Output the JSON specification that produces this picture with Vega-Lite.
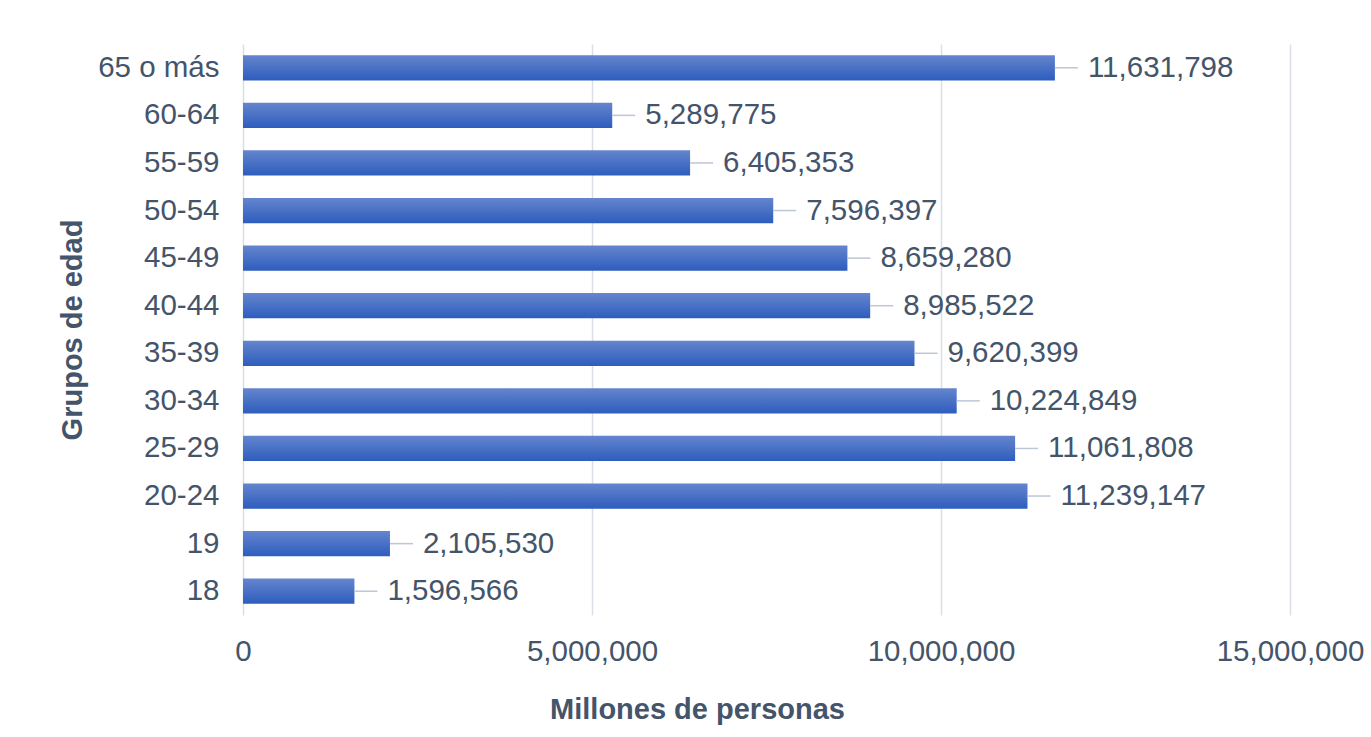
{
  "$schema": "https://vega.github.io/schema/vega-lite/v6.json",
  "autosize": {"type": "none"},
  "padding": {"left": 243, "top": 44, "right": 81, "bottom": 122},
  "width": 1047,
  "height": 571,
  "background": "white",
  "config": {
    "font": "Liberation Sans",
    "view": {"stroke": null},
    "axis": {"labelColor": "#44546A", "titleColor": "#44546A", "labelFont": "Liberation Sans", "titleFont": "Liberation Sans"}
  },
  "data": {
    "values": [
      {"grupo": "65 o más", "personas": 11631798},
      {"grupo": "60-64", "personas": 5289775},
      {"grupo": "55-59", "personas": 6405353},
      {"grupo": "50-54", "personas": 7596397},
      {"grupo": "45-49", "personas": 8659280},
      {"grupo": "40-44", "personas": 8985522},
      {"grupo": "35-39", "personas": 9620399},
      {"grupo": "30-34", "personas": 10224849},
      {"grupo": "25-29", "personas": 11061808},
      {"grupo": "20-24", "personas": 11239147},
      {"grupo": "19", "personas": 2105530},
      {"grupo": "18", "personas": 1596566}
    ]
  },
  "encoding": {
    "y": {
      "field": "grupo", "type": "nominal",
      "sort": ["65 o más", "60-64", "55-59", "50-54", "45-49", "40-44", "35-39", "30-34", "25-29", "20-24", "19", "18"],
      "scale": {"paddingInner": 0.47, "paddingOuter": 0.235},
      "axis": {
        "title": "Grupos de edad", "titleFontSize": 29, "titleFontWeight": "bold", "titlePadding": 10,
        "labelFontSize": 29.5, "labelPadding": 24, "ticks": false, "domain": false, "grid": false
      }
    }
  },
  "layer": [
    {
      "mark": {
        "type": "bar",
        "color": {
          "gradient": "linear", "x1": 0, "y1": 0, "x2": 0, "y2": 1,
          "stops": [{"offset": 0, "color": "#6585CE"}, {"offset": 1, "color": "#2D5DBD"}]
        }
      },
      "encoding": {
        "x": {
          "field": "personas", "type": "quantitative",
          "scale": {"domain": [0, 15000000], "nice": false},
          "axis": {
            "title": "Millones de personas", "titleFontSize": 29, "titleFontWeight": "bold", "titlePadding": 30, "titleX": 454,
            "labelFontSize": 29.5, "labelPadding": 22, "labelFlush": false, "labelOverlap": false,
            "values": [0, 5000000, 10000000, 15000000], "format": ",d",
            "ticks": false, "domain": false, "grid": true, "gridColor": "#D9DEE8", "gridWidth": 1.5
          }
        }
      }
    },
    {
      "mark": {"type": "rule", "x2Offset": 23, "color": "#BCC6D6", "strokeWidth": 1.5},
      "encoding": {
        "x": {"field": "personas", "type": "quantitative"},
        "x2": {"field": "personas"}
      }
    },
    {
      "mark": {"type": "text", "align": "left", "baseline": "middle", "dx": 33, "fontSize": 29.5, "color": "#44546A"},
      "encoding": {
        "x": {"field": "personas", "type": "quantitative"},
        "text": {"field": "personas", "type": "quantitative", "format": ",d"}
      }
    }
  ]
}
